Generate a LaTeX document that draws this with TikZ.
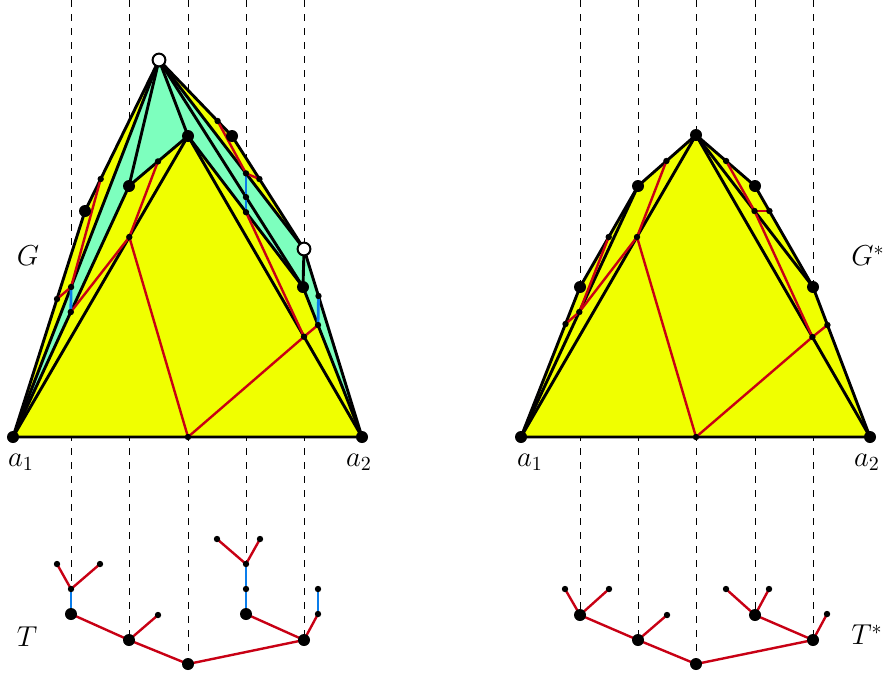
\documentclass[tikz,border=0pt]{standalone}
\definecolor{gy}{RGB}{240,255,0}
\definecolor{gg}{RGB}{125,255,190}
\definecolor{tr}{RGB}{200,0,20}
\definecolor{tb}{RGB}{10,125,235}
\tikzset{
 blk/.style={line width=1.45pt, line join=round, line cap=round},
 redl/.style={tr, line width=1.2pt, line cap=round},
 bluel/.style={tb, line width=1.4pt},
 dashl/.style={line width=0.5pt, dash pattern=on 3.5pt off 3.5pt},
 bigdot/.style={circle, fill=black, inner sep=0pt, minimum size=6pt},
 smalldot/.style={circle, fill=black, inner sep=0pt, minimum size=3.2pt},
 opendot/.style={circle, draw=black, fill=white, line width=1pt, inner sep=0pt, minimum size=6.4pt},
 lab/.style={font=\fontsize{14.5}{17}\selectfont, inner sep=0pt},
}
\begin{document}
\begin{tikzpicture}[x=0.5pt,y=-0.5pt]
\useasboundingbox (0,0) rectangle (886,676);
% ---------- left graph G coordinates
\coordinate (La1) at (13,437);
\coordinate (La2) at (362,437);
\coordinate (LO1) at (159,60);
\coordinate (LO2) at (304,249);
\coordinate (LB1) at (188,136);
\coordinate (LB2) at (129,186);
\coordinate (LB3) at (85,211);
\coordinate (LB4) at (232,136);
\coordinate (LB5) at (303,287);
\coordinate (s1) at (100.7,179);
\coordinate (s2) at (158,161.4);
\coordinate (s3) at (129.3,237);
\coordinate (s4) at (57,299);
\coordinate (s5) at (71.1,287);
\coordinate (s6) at (70.8,312);
\coordinate (s7) at (217.6,121);
\coordinate (s8) at (246,173.4);
\coordinate (s9) at (246,197.1);
\coordinate (s10) at (246,212.2);
\coordinate (s11) at (259.4,179);
\coordinate (s12) at (318.5,296);
\coordinate (s13) at (318,325);
\coordinate (s14) at (304,336.7);
\coordinate (s15) at (188,437);
% ---------- right graph G* coordinates
\coordinate (Ra1) at (521,437);
\coordinate (Ra2) at (870,437);
\coordinate (RT) at (696,135);
\coordinate (RB1) at (638,186);
\coordinate (RB2) at (580,287);
\coordinate (RB3) at (755,186);
\coordinate (RB4) at (813,287);
\coordinate (q0) at (696,437);
\coordinate (q1) at (565.5,324);
\coordinate (q2) at (608.7,237);
\coordinate (q3) at (666.4,161);
\coordinate (q4) at (637,237);
\coordinate (q5) at (579.3,312);
\coordinate (q6) at (726.1,161);
\coordinate (q7) at (754.5,211);
\coordinate (q8) at (769.4,211);
\coordinate (q9) at (812.4,337);
\coordinate (q10) at (827.4,325);
% ---------- tree T coordinates
\coordinate (t0) at (188,664);
\coordinate (t1) at (129,640);
\coordinate (t2) at (71,614);
\coordinate (t3) at (71,589);
\coordinate (t4) at (57,564);
\coordinate (t5) at (100,564);
\coordinate (t6) at (158,615);
\coordinate (t7) at (304,640);
\coordinate (t8) at (246,614);
\coordinate (t9) at (246,589);
\coordinate (t10) at (246,564);
\coordinate (t11) at (217,539);
\coordinate (t12) at (260,539);
\coordinate (t13) at (318,614);
\coordinate (t14) at (318,589);
% ---------- tree T* coordinates
\coordinate (u0) at (696,664);
\coordinate (u1) at (638,640);
\coordinate (u2) at (580,615);
\coordinate (u3) at (565,589);
\coordinate (u4) at (609,589);
\coordinate (u5) at (667,615);
\coordinate (u6) at (813,640);
\coordinate (u7) at (755,615);
\coordinate (u8) at (726,589);
\coordinate (u9) at (769,589);
\coordinate (u10) at (827,614);
% ---------- dashed lines tops
\coordinate (d1) at (71,0);
\coordinate (d2) at (129,0);
\coordinate (d3) at (188,0);
\coordinate (d4) at (246,0);
\coordinate (d5) at (304,0);
\coordinate (e1) at (580,0);
\coordinate (e2) at (638,0);
\coordinate (e3) at (696,0);
\coordinate (e4) at (755,0);
\coordinate (e5) at (813,0);
\draw[dashl] (d1) -- (t3);
\draw[dashl] (d2) -- (t1);
\draw[dashl] (d3) -- (t0);
\draw[dashl] (d4) -- (t10);
\draw[dashl] (d5) -- (t7);
\draw[dashl] (e1) -- (u2);
\draw[dashl] (e2) -- (u1);
\draw[dashl] (e3) -- (u0);
\draw[dashl] (e4) -- (u7);
\draw[dashl] (e5) -- (u6);
% ---------- fills
\fill[gy] (La1) -- (LB3) -- (LO1) -- (LB4) -- (LO2) -- (La2) -- cycle;
\fill[gg] (LO1) -- (La1) -- (LB2) -- (LB1) -- cycle;
\fill[gg] (LO1) -- (LO2) -- (La2) -- (LB5) -- (LB1) -- cycle;
\fill[gy] (Ra1) -- (RB2) -- (RB1) -- (RT) -- (RB3) -- (RB4) -- (Ra2) -- cycle;
% ---------- black edges G
\draw[blk] (La1) -- (LB3) -- (LO1) -- (LB4) -- (LO2) -- (La2) -- cycle;
\draw[blk] (LO1) -- (La1);
\draw[blk] (LO1) -- (LB2);
\draw[blk] (LO1) -- (LB1);
\draw[blk] (LB2) -- (LB1);
\draw[blk] (LB2) -- (La1);
\draw[blk] (LB1) -- (La1);
\draw[blk] (LB1) -- (La2);
\draw[blk] (LO1) -- (LO2);
\draw[blk] (LO1) -- (LB5);
\draw[blk] (LB1) -- (LB5);
\draw[blk] (LO2) -- (LB5);
\draw[blk] (LB5) -- (La2);
% ---------- black edges G*
\draw[blk] (Ra1) -- (RB2) -- (RB1) -- (RT) -- (RB3) -- (RB4) -- (Ra2) -- cycle;
\draw[blk] (RT) -- (Ra1);
\draw[blk] (RT) -- (Ra2);
\draw[blk] (RB1) -- (Ra1);
\draw[blk] (RT) -- (RB4);
% ---------- red / blue in G
\draw[redl] (s15) -- (s3);
\draw[redl] (s15) -- (s14);
\draw[redl] (s3) -- (s2);
\draw[redl] (s3) -- (s6);
\draw[redl] (s5) -- (s4);
\draw[redl] (s5) -- (s1);
\draw[redl] (s14) -- (s13);
\draw[redl] (s14) -- (s10);
\draw[redl] (s8) -- (s7);
\draw[redl] (s8) -- (s11);
\draw[bluel] (s6) -- (s5);
\draw[bluel] (s10) -- (s9) -- (s8);
\draw[bluel] (s13) -- (s12);
% ---------- red in G*
\draw[redl] (q0) -- (q4);
\draw[redl] (q0) -- (q9);
\draw[redl] (q4) -- (q3);
\draw[redl] (q4) -- (q5);
\draw[redl] (q5) -- (q1);
\draw[redl] (q5) -- (q2);
\draw[redl] (q9) -- (q10);
\draw[redl] (q9) -- (q7);
\draw[redl] (q7) -- (q6);
\draw[redl] (q7) -- (q8);
% ---------- tree T edges
\draw[redl] (t0) -- (t1);
\draw[redl] (t0) -- (t7);
\draw[redl] (t1) -- (t2);
\draw[redl] (t1) -- (t6);
\draw[redl] (t3) -- (t4);
\draw[redl] (t3) -- (t5);
\draw[redl] (t7) -- (t8);
\draw[redl] (t7) -- (t13);
\draw[redl] (t10) -- (t11);
\draw[redl] (t10) -- (t12);
\draw[bluel] (t2) -- (t3);
\draw[bluel] (t8) -- (t9) -- (t10);
\draw[bluel] (t13) -- (t14);
% ---------- tree T* edges
\draw[redl] (u0) -- (u1);
\draw[redl] (u0) -- (u6);
\draw[redl] (u1) -- (u2);
\draw[redl] (u1) -- (u5);
\draw[redl] (u2) -- (u3);
\draw[redl] (u2) -- (u4);
\draw[redl] (u6) -- (u7);
\draw[redl] (u6) -- (u10);
\draw[redl] (u7) -- (u8);
\draw[redl] (u7) -- (u9);
% ---------- dots
\foreach \p in {La1,La2,LB1,LB2,LB3,LB4,LB5,Ra1,Ra2,RT,RB1,RB2,RB3,RB4,t0,t1,t2,t7,t8,u0,u1,u2,u6,u7}
  \node[bigdot] (n\p) at (\p) {};
\foreach \p in {s1,s2,s3,s4,s5,s6,s7,s8,s9,s10,s11,s12,s13,s14,s15,q0,q1,q2,q3,q4,q5,q6,q7,q8,q9,q10,t3,t4,t5,t6,t9,t10,t11,t12,t13,t14,u3,u4,u5,u8,u9,u10}
  \node[smalldot] (n\p) at (\p) {};
\node[opendot] (nLO1) at (LO1) {};
\node[opendot] (nLO2) at (LO2) {};
% ---------- labels
\node[lab] (labG) at (28,256) {$G$};
\node[lab] (labGs) at (868,256) {$G^*$};
\node[lab] (labT) at (27,637) {$T$};
\node[lab] (labTs) at (867,635) {$T^*$};
\node[lab] (la1) at (21,462) {$a_1$};
\node[lab] (la2) at (359,462) {$a_2$};
\node[lab] (ra1) at (530,462) {$a_1$};
\node[lab] (ra2) at (867,462) {$a_2$};
\end{tikzpicture}
\end{document}
